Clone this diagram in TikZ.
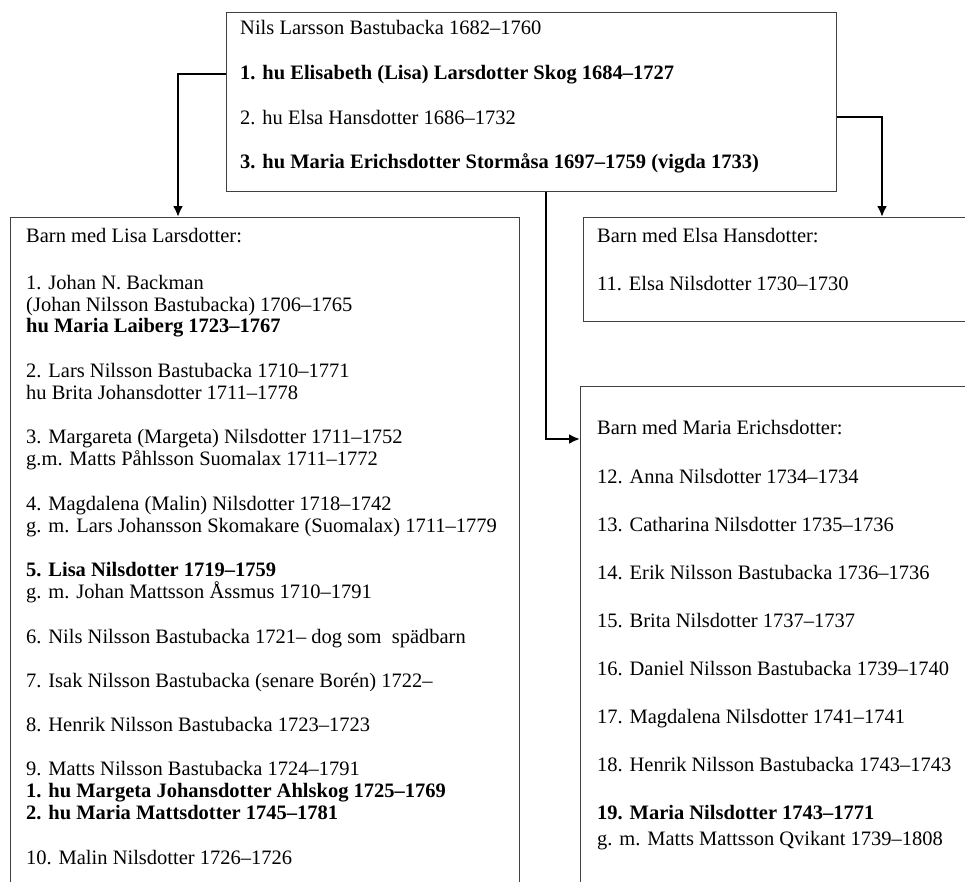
\documentclass[tikz,border=0pt]{standalone}
\usepackage{fontspec}
\setmainfont{Liberation Serif}
\usepackage{tikz}
\usetikzlibrary{arrows.meta,calc}
\newcommand{\famsize}{\fontsize{20.5pt}{22pt}\selectfont}

\begin{document}
\begin{tikzpicture}[x=1pt,y=-1pt,
    box/.style={rectangle,draw=black!75,line width=1.2pt,anchor=north west,inner sep=0pt},
    entry/.style={anchor=base west,inner sep=0pt,text=black,font=\famsize},
    bold entry/.style={entry,font=\famsize\bfseries},
    link/.style={draw=black,line width=2.2pt,-{Latex[length=11pt,width=10pt]}}]
  \useasboundingbox (0,0) rectangle (965,881);
  \fill[white] (0,0) rectangle (965,881);
  \clip (0,0) rectangle (965,881);

  %boxes%
  \node[box,minimum width=610pt,minimum height=179pt] (nils) at (226,12) {};
  \node[box,minimum width=509pt,minimum height=700pt] (lisa) at (10,217) {};
  \node[box,minimum width=420pt,minimum height=104pt] (elsa) at (583,217) {};
  \node[box,minimum width=420pt,minimum height=540pt] (maria) at (580,386) {};

  %Nils and wives%
  \node[entry] (nils0) at (240,34) {Nils Larsson Bastubacka 1682–1760};
  \node[bold entry] (hu1) at (240,79) {1. hu Elisabeth (Lisa) Larsdotter Skog 1684–1727};
  \node[entry] (hu2) at (240,124) {2. hu Elsa Hansdotter 1686–1732};
  \node[bold entry] (hu3) at (240,168) {3. hu Maria Erichsdotter Stormåsa 1697–1759 (vigda 1733)};

  %children with Lisa%
  \node[entry] (lisa0) at (26,242) {Barn med Lisa Larsdotter:};
  \node[entry] (c1a) at (26,289) {1. Johan N. Backman};
  \node[entry] (c1b) at (26,311) {(Johan Nilsson Bastubacka) 1706–1765};
  \node[bold entry] (c1c) at (26,332) {hu Maria Laiberg 1723–1767};
  \node[entry] (c2a) at (26,377) {2. Lars Nilsson Bastubacka 1710–1771};
  \node[entry] (c2b) at (26,399) {hu Brita Johansdotter 1711–1778};
  \node[entry] (c3a) at (26,443) {3. Margareta (Margeta) Nilsdotter 1711–1752};
  \node[entry] (c3b) at (26,465) {g.m. Matts Påhlsson Suomalax 1711–1772};
  \node[entry] (c4a) at (26,510) {4. Magdalena (Malin) Nilsdotter 1718–1742};
  \node[entry] (c4b) at (26,532) {g. m. Lars Johansson Skomakare (Suomalax) 1711–1779};
  \node[bold entry] (c5a) at (26,576) {5. Lisa Nilsdotter 1719–1759};
  \node[entry] (c5b) at (26,598) {g. m. Johan Mattsson Åssmus 1710–1791};
  \node[entry] (c6) at (26,643) {6. Nils Nilsson Bastubacka 1721– dog som~~spädbarn};
  \node[entry] (c7) at (26,687) {7. Isak Nilsson Bastubacka (senare Borén) 1722–};
  \node[entry] (c8) at (26,731) {8. Henrik Nilsson Bastubacka 1723–1723};
  \node[entry] (c9a) at (26,775) {9. Matts Nilsson Bastubacka 1724–1791};
  \node[bold entry] (c9b) at (26,797) {1. hu Margeta Johansdotter Ahlskog 1725–1769};
  \node[bold entry] (c9c) at (26,819) {2. hu Maria Mattsdotter 1745–1781};
  \node[entry] (c10) at (26,864) {10. Malin Nilsdotter 1726–1726};

  %child with Elsa%
  \node[entry] (elsa0) at (597,242) {Barn med Elsa Hansdotter:};
  \node[entry] (c11) at (597,290) {11. Elsa Nilsdotter 1730–1730};

  %children with Maria%
  \node[entry] (maria0) at (597,434) {Barn med Maria Erichsdotter:};
  \foreach \t [count=\i from 12] in {Anna Nilsdotter 1734–1734,
      Catharina Nilsdotter 1735–1736, Erik Nilsson Bastubacka 1736–1736,
      Brita Nilsdotter 1737–1737, Daniel Nilsson Bastubacka 1739–1740,
      Magdalena Nilsdotter 1741–1741, Henrik Nilsson Bastubacka 1743–1743}
    \node[entry] (c\i) at (597,{483+48*(\i-12)}) {\i. \t};
  \node[bold entry] (c19a) at (597,819) {19. Maria Nilsdotter 1743–1771};
  \node[entry] (c19b) at (597,845) {g. m. Matts Mattsson Qvikant 1739–1808};

  %links%
  \draw[link] (nils.west |- hu1) -| ($(lisa.north west)+(168,0)$);
  \draw[link] (nils.east |- hu2) -| ($(elsa.north west)+(299,0)$);
  \draw[link] ($(nils.south west)+(320,0)$) |- ($(maria.north west)+(0,53)$);
\end{tikzpicture}
\end{document}
